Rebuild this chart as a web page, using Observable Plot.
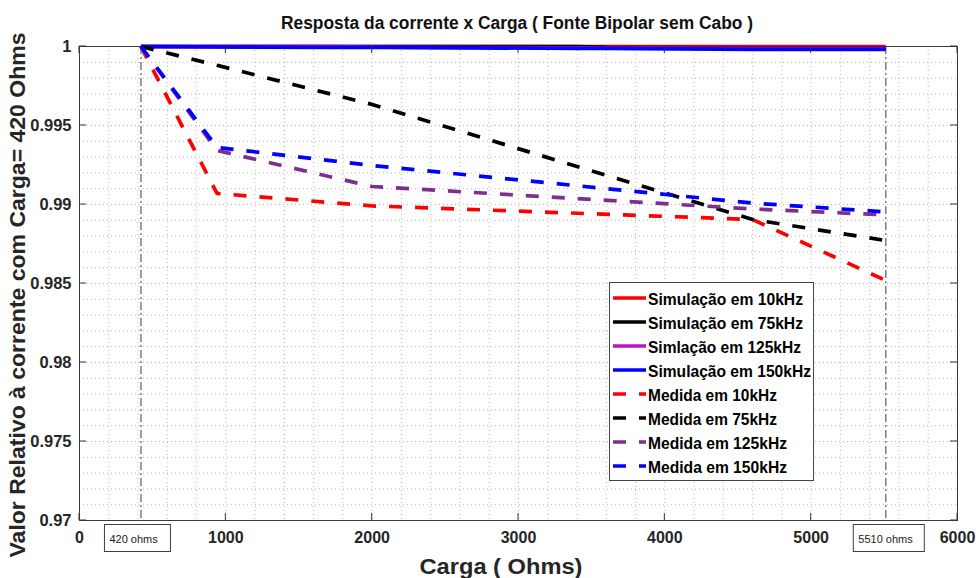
<!DOCTYPE html>
<html>
<head>
<meta charset="utf-8">
<script src="https://cdn.jsdelivr.net/npm/d3@7"></script>
<script src="https://cdn.jsdelivr.net/npm/@observablehq/plot@0.6"></script>
<style>
  body { margin: 0; background: #fff; }
  #chart svg { font-family: "Liberation Sans", Arial, Helvetica, sans-serif; }
</style>
</head>
<body>
<div id="chart"></div>
<script>
// Carga (ohms) das medidas e respostas relativas à carga de 420 ohms
const medidaCarga = [420, 940, 2000, 4600, 5510];
const medida10k  = [1.0, 0.9907,  0.98991, 0.98905, 0.98519];
const medida75k  = [1.0, 0.99881, 0.99633, 0.98905, 0.98772];
const medida125k = [1.0, 0.99342, 0.99114, 0.98972, 0.98934];
const medida150k = [1.0, 0.99361, 0.99247, 0.99009, 0.98953];

// Pontos da simulação
const simCarga = [420, 1700, 2200, 3400, 3600, 4600, 5510];
const sim10k  = [1, 1, 1, 1, 1, 1, 1];
const sim75k  = [1, 1, 1, 1, 0.99994, 0.99992, 0.99992];
const sim125k = [1, 1, 0.99994, 0.99992, 0.9999, 0.99988, 0.99988];
const sim150k = [1, 0.99994, 0.99994, 0.99988, 0.99988, 0.99982, 0.99982];

// Eixos
const xTicks = [0, 1000, 2000, 3000, 4000, 5000, 6000];
const yTicks = [0.97, 0.975, 0.98, 0.985, 0.99, 0.995, 1];
const xMinor = d3.range(0, 6001, 200);
const yMinor = d3.range(970, 1001).map(v => v / 1000);
const cargasMarcadas = [420, 5510];
const rotulosCarga = ["420 ohms", "5510 ohms"];

const titulo = "Resposta da corrente x Carga ( Fonte Bipolar sem Cabo )";
const rotuloX = "Carga ( Ohms)";
const rotuloY = "Valor Relativo à corrente com Carga= 420 Ohms";

// Séries, com a largura do texto de cada entrada da legenda
const series = [
  { nome: "Simulação em 10kHz",  x: simCarga,    y: sim10k,     cor: "#ff0000", traco: null,    larg: 155 },
  { nome: "Simulação em 75kHz",  x: simCarga,    y: sim75k,     cor: "#000000", traco: null,    larg: 155 },
  { nome: "Simlação em 125kHz",  x: simCarga,    y: sim125k,    cor: "#c010c8", traco: null,    larg: 153 },
  { nome: "Simulação em 150kHz", x: simCarga,    y: sim150k,    cor: "#0000ff", traco: null,    larg: 163 },
  { nome: "Medida em 10kHz",     x: medidaCarga, y: medida10k,  cor: "#ff0000", traco: "13,13", larg: 129 },
  { nome: "Medida em 75kHz",     x: medidaCarga, y: medida75k,  cor: "#000000", traco: "13,13", larg: 129 },
  { nome: "Medida em 125kHz",    x: medidaCarga, y: medida125k, cor: "#7e2f8e", traco: "13,13", larg: 139 },
  { nome: "Medida em 150kHz",    x: medidaCarga, y: medida150k, cor: "#0000ff", traco: "13,13", larg: 139 }
];

const W = 976, H = 578;
const M = { top: 46, right: 19, bottom: 58, left: 79 };
const fmtY = d => String(+d.toFixed(3));
const fmtX = d => String(d);

const plot = Plot.plot({
  width: W,
  height: H,
  marginTop: M.top,
  marginRight: M.right,
  marginBottom: M.bottom,
  marginLeft: M.left,
  style: { background: "#ffffff", overflow: "visible" },
  x: { domain: [0, 6000] },
  y: { domain: [0.97, 1] },
  marks: [
    Plot.gridX(xMinor, { stroke: "#b8b8b8", strokeOpacity: 1, strokeWidth: 1, strokeDasharray: "1,3" }),
    Plot.gridY(yMinor, { stroke: "#b8b8b8", strokeOpacity: 1, strokeWidth: 1, strokeDasharray: "1,3" }),
    Plot.ruleX(cargasMarcadas, { stroke: "#6a6a6a", strokeWidth: 1.3, strokeDasharray: "8,3,2,3" }),
    Plot.frame({ stroke: "#3a3a3a", strokeWidth: 1 }),
    Plot.axisX(xTicks, { tickSize: 0, tickPadding: 11, fontSize: 16, fontWeight: "bold", fill: "#262626", tickFormat: fmtX, label: null }),
    Plot.axisY(yTicks, { tickSize: 0, tickPadding: 8, fontSize: 16.5, fontWeight: "bold", fill: "#262626", tickFormat: fmtY, label: null }),
    ...series.map(s => Plot.line(
      s.x.map((c, i) => ({ carga: c, valor: s.y[i] })),
      { x: "carga", y: "valor", stroke: s.cor, strokeWidth: 3.7, strokeDasharray: s.traco, strokeLinecap: "butt" }
    ))
  ]
});

document.getElementById("chart").appendChild(plot);

const svg = d3.select(plot);
const sx = plot.scale("x"), sy = plot.scale("y");
const x0 = M.left, x1 = W - M.right, y0 = M.top, y1 = H - M.bottom;

// Marcas de escala internas nos quatro lados
const tk = svg.append("g").attr("stroke", "#333").attr("stroke-width", 1);
xTicks.forEach(v => {
  const px = sx.apply(v);
  tk.append("line").attr("x1", px).attr("x2", px).attr("y1", y1).attr("y2", y1 - 7);
  tk.append("line").attr("x1", px).attr("x2", px).attr("y1", y0).attr("y2", y0 + 7);
});
yTicks.forEach(v => {
  const py = sy.apply(v);
  tk.append("line").attr("x1", x0).attr("x2", x0 + 7).attr("y1", py).attr("y2", py);
  tk.append("line").attr("x1", x1).attr("x2", x1 - 7).attr("y1", py).attr("y2", py);
});

// Título e rótulos dos eixos
svg.append("text")
  .attr("x", 517).attr("y", 29)
  .attr("text-anchor", "middle")
  .attr("font-size", 18).attr("font-weight", "bold").attr("fill", "#111")
  .attr("textLength", 472).attr("lengthAdjust", "spacingAndGlyphs")
  .text(titulo);

svg.append("text")
  .attr("x", 501).attr("y", 574)
  .attr("text-anchor", "middle")
  .attr("font-size", 22).attr("font-weight", "bold").attr("fill", "#262626")
  .attr("textLength", 163).attr("lengthAdjust", "spacingAndGlyphs")
  .text(rotuloX);

svg.append("text")
  .attr("transform", "translate(25,295) rotate(-90)")
  .attr("text-anchor", "middle")
  .attr("font-size", 22).attr("font-weight", "bold").attr("fill", "#262626")
  .attr("textLength", 525).attr("lengthAdjust", "spacingAndGlyphs")
  .text(rotuloY);

// Caixas com as cargas marcadas
cargasMarcadas.forEach((c, i) => {
  const px = sx.apply(c);
  const w = i === 0 ? 66 : 71;
  const left = px - (i === 0 ? 36 : 32);
  const g = svg.append("g");
  g.append("rect").attr("x", left).attr("y", 524.5).attr("width", w).attr("height", 27)
    .attr("fill", "#fff").attr("stroke", "#404040").attr("stroke-width", 1);
  g.append("text").attr("x", left + 5).attr("y", 538.5)
    .attr("text-anchor", "start")
    .attr("dominant-baseline", "central")
    .attr("font-size", 11).attr("fill", "#222")
    .text(rotulosCarga[i]);
});

// Legenda
const lg = svg.append("g");
lg.append("rect").attr("x", 609.5).attr("y", 282.5).attr("width", 204).attr("height", 198)
  .attr("fill", "#fff").attr("stroke", "#444").attr("stroke-width", 1);
series.forEach((s, i) => {
  const cy = 298 + i * 24;
  lg.append("line").attr("x1", 613).attr("x2", 646).attr("y1", cy).attr("y2", cy)
    .attr("stroke", s.cor).attr("stroke-width", 3.7)
    .attr("stroke-dasharray", s.traco);
  lg.append("text").attr("x", 648).attr("y", cy + 1)
    .attr("text-anchor", "start")
    .attr("dominant-baseline", "central")
    .attr("font-size", 16.5).attr("font-weight", "bold").attr("fill", "#000")
    .attr("textLength", s.larg).attr("lengthAdjust", "spacingAndGlyphs")
    .text(s.nome);
});
</script>
</body>
</html>
